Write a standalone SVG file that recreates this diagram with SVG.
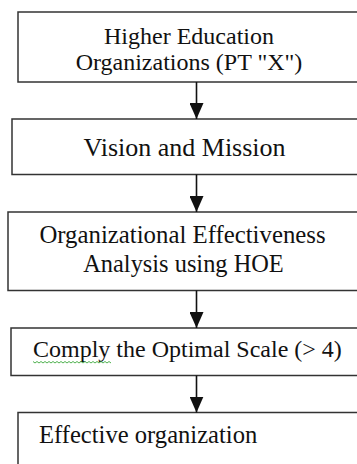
<svg xmlns="http://www.w3.org/2000/svg" width="357" height="464" viewBox="0 0 357 464">
<style>
.box{fill:#fff;stroke:#333;stroke-width:1.5}
.t{font-family:"Liberation Serif","Times New Roman",serif;font-size:24px;fill:#111}
.conn{stroke:#111;stroke-width:1.6;fill:none}
</style>
<defs>
<marker id="ah" viewBox="0 0 16 14" refX="16" refY="7" markerWidth="16" markerHeight="14" markerUnits="userSpaceOnUse" orient="auto">
<path d="M0,0 L16,7 L0,14 Z" fill="#111"/>
</marker>
</defs>
<rect width="357" height="464" fill="#fff"/>
<g id="n1">
<rect class="box" x="18" y="12" width="360" height="70"/>
<text class="t" x="189" y="43.5" text-anchor="middle">Higher Education</text>
<text class="t" x="189" y="70" text-anchor="middle">Organizations (PT "X")</text>
</g>
<g id="n2">
<rect class="box" x="12" y="119" width="366" height="55.5"/>
<text class="t" x="184.5" y="156" text-anchor="middle" style="font-size:26px">Vision and Mission</text>
</g>
<g id="n3">
<rect class="box" x="8" y="212" width="370" height="78.5"/>
<text class="t" x="182.5" y="243" text-anchor="middle" style="font-size:24.8px">Organizational Effectiveness</text>
<text class="t" x="183.5" y="271.5" text-anchor="middle" style="font-size:24.4px">Analysis using HOE</text>
</g>
<g id="n4">
<rect class="box" x="11" y="328" width="367" height="47.5"/>
<text class="t" x="33" y="356.5">Comply the Optimal Scale (&gt; 4)</text>
<path d="M33,361.5 l2,1.5 l2,-1.5 l2,1.5 l2,-1.5 l2,1.5 l2,-1.5 l2,1.5 l2,-1.5 l2,1.5 l2,-1.5 l2,1.5 l2,-1.5 l2,1.5 l2,-1.5 l2,1.5 l2,-1.5 l2,1.5 l2,-1.5 l2,1.5 l2,-1.5 l2,1.5 l2,-1.5 l2,1.5 l2,-1.5 l2,1.5 l2,-1.5 l2,1.5 l2,-1.5 l2,1.5 l2,-1.5 l2,1.5 l2,-1.5 l2,1.5 l2,-1.5 l2,1.5 l2,-1.5 l2,1.5 l2,-1.5 l2,1.5" fill="none" stroke="#3aa83a" stroke-width="0.9"/>
</g>
<g id="n5">
<rect class="box" x="18" y="412.5" width="360" height="70"/>
<text class="t" x="39" y="443" style="font-size:24.6px">Effective organization</text>
</g>
<g id="connectors">
<line class="conn" x1="196.5" y1="82" x2="196.5" y2="119" marker-end="url(#ah)"/>
<line class="conn" x1="196.5" y1="174.5" x2="196.5" y2="212" marker-end="url(#ah)"/>
<line class="conn" x1="196.5" y1="290.5" x2="196.5" y2="328" marker-end="url(#ah)"/>
<line class="conn" x1="196.5" y1="375.5" x2="196.5" y2="412.5" marker-end="url(#ah)"/>
</g>
</svg>
